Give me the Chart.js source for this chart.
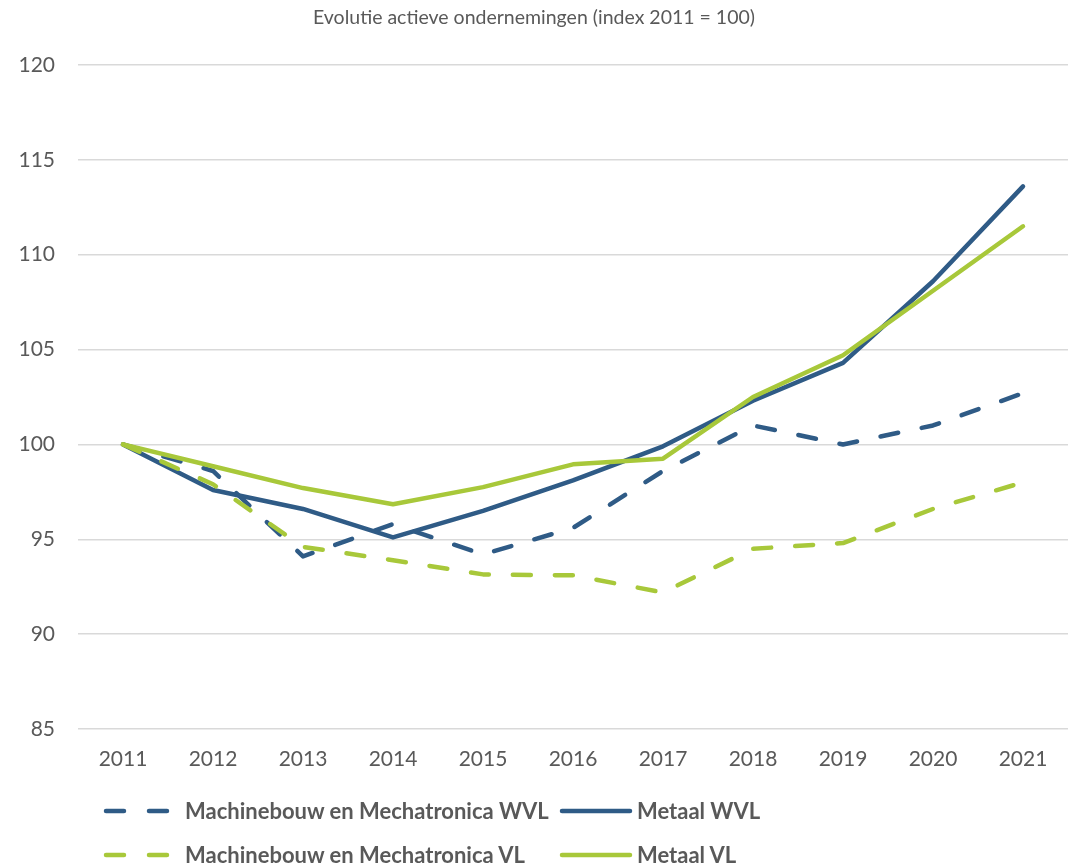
<!DOCTYPE html>
<html>
<head>
<meta charset="utf-8">
<script src="https://cdn.jsdelivr.net/npm/chart.js@4/dist/chart.umd.min.js"></script>
<style>
  html, body { margin: 0; padding: 0; background: #fff; }
  #wrap { position: relative; width: 1068px; height: 867px; }
  #c { position: absolute; left: 0; top: 0; }
  .leg { position: absolute; font-family: Lato, "Open Sans", sans-serif; font-weight: bold; font-size: 22px; color: #595959; white-space: nowrap; line-height: 26px; }
  .sw { position: absolute; }
</style>
</head>
<body>
<div id="wrap">
  <canvas id="c" width="1068" height="867"></canvas>
  <div id="legend"></div>
</div>
<script>
const years = ['2011','2012','2013','2014','2015','2016','2017','2018','2019','2020','2021'];
const machWVL  = [100, 98.6, 94.1, 95.8, 94.2, 95.6, 98.6, 101.0, 100.0, 101.0, 102.7];
const metaalWVL = [100, 97.6, 96.6, 95.1, 96.5, 98.1, 99.9, 102.3, 104.3, 108.6, 113.6];
const machVL   = [100, 97.9, 94.6, 93.9, 93.15, 93.1, 92.2, 94.5, 94.8, 96.6, 98.0];
const metaalVL = [100, 98.85, 97.7, 96.85, 97.75, 98.95, 99.25, 102.5, 104.7, 108.1, 111.5];
const seriesNames = ['Machinebouw en Mechatronica WVL', 'Metaal WVL', 'Machinebouw en Mechatronica VL', 'Metaal VL'];
const titleText = 'Evolutie actieve ondernemingen (index 2011 = 100)';

const BLUE = '#2F5B86';
const GREEN = '#A8C83A';
const DASH = [18, 24];
const FONT = 'Lato, "Open Sans", sans-serif';

function ds(label, data, color, dashed, order) {
  return {
    label, data, borderColor: color, backgroundColor: color,
    borderWidth: 4.5, borderDash: dashed ? DASH : [],
    borderCapStyle: 'round', borderJoinStyle: 'round',
    pointRadius: 0, tension: 0, fill: false, order
  };
}

new Chart(document.getElementById('c'), {
  type: 'line',
  data: {
    labels: years,
    datasets: [
      ds(seriesNames[0], machWVL, BLUE, true, 3),
      ds(seriesNames[1], metaalWVL, BLUE, false, 2),
      ds(seriesNames[2], machVL, GREEN, true, 1),
      ds(seriesNames[3], metaalVL, GREEN, false, 0)
    ]
  },
  options: {
    responsive: false,
    animation: false,
    layout: { padding: { left: 0, right: 0, top: 0, bottom: 88 } },
    plugins: {
      legend: { display: false },
      tooltip: { enabled: false },
      title: {
        display: true, text: titleText, color: '#595959',
        font: { family: FONT, size: 19.5, weight: 'normal' },
        padding: { top: 6, bottom: 35.6 }
      }
    },
    scales: {
      x: {
        offset: true,
        grid: { display: false, drawTicks: false },
        border: { display: false },
        ticks: { color: '#595959', font: { family: FONT, size: 21 }, padding: 18, maxRotation: 0 },
        afterFit: (a) => { a.height = 50; }
      },
      y: {
        min: 85, max: 120,
        grid: { color: '#D9D9D9', lineWidth: 1.5, drawTicks: false },
        border: { display: false },
        ticks: { stepSize: 5, color: '#595959', font: { family: FONT, size: 21 }, padding: 23 },
        afterFit: (a) => { a.width = 78; }
      }
    }
  }
});

// HTML legend (two columns, two rows)
const legend = document.getElementById('legend');
const items = [
  { name: seriesNames[0], color: BLUE, dashed: true, x: 104, y: 811 },
  { name: seriesNames[1], color: BLUE, dashed: false, x: 560, y: 811 },
  { name: seriesNames[2], color: GREEN, dashed: true, x: 104, y: 855 },
  { name: seriesNames[3], color: GREEN, dashed: false, x: 560, y: 855 }
];
items.forEach(it => {
  const svgNS = 'http://www.w3.org/2000/svg';
  const svg = document.createElementNS(svgNS, 'svg');
  svg.setAttribute('width', '76'); svg.setAttribute('height', '12');
  svg.setAttribute('class', 'sw');
  svg.style.left = (it.x - 2) + 'px'; svg.style.top = (it.y - 6) + 'px';
  const line = document.createElementNS(svgNS, 'line');
  line.setAttribute('x1', 4); line.setAttribute('x2', it.dashed ? 70 : 72);
  line.setAttribute('y1', 6); line.setAttribute('y2', 6);
  line.setAttribute('stroke', it.color); line.setAttribute('stroke-width', '4.5');
  line.setAttribute('stroke-linecap', 'round');
  if (it.dashed) line.setAttribute('stroke-dasharray', '18 25');
  svg.appendChild(line);
  legend.appendChild(svg);
  const t = document.createElement('div');
  t.className = 'leg';
  t.textContent = it.name;
  t.style.left = (it.dashed ? it.x + 81 : it.x + 77) + 'px';
  t.style.top = (it.y - 13) + 'px';
  legend.appendChild(t);
});
</script>
</body>
</html>
